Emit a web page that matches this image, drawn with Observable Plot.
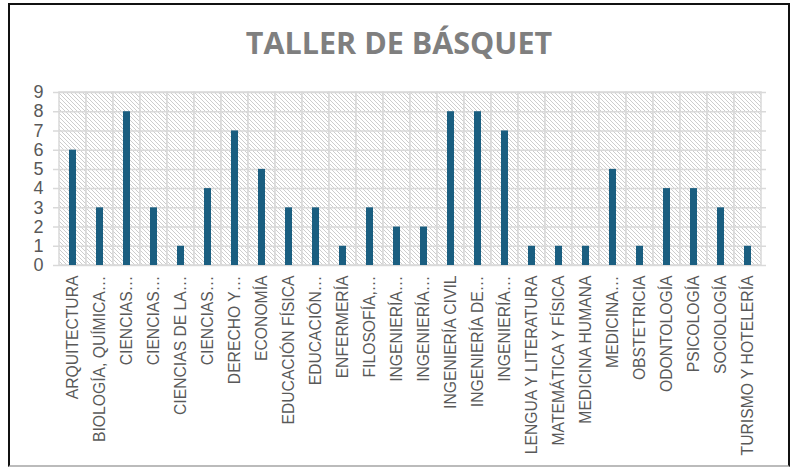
<!DOCTYPE html>
<html><head><meta charset="utf-8">
<script src="https://cdn.jsdelivr.net/npm/d3@7"></script>
<script src="https://cdn.jsdelivr.net/npm/@observablehq/plot@0.6"></script>
<style>
body{margin:0;background:#fff;}
#frame{position:absolute;left:8px;top:3px;width:778px;height:460px;border:2px solid #111;border-bottom-color:#bbb;background:#fff;overflow:hidden;}
#title{position:absolute;top:22px;left:0;width:100%;text-align:center;font-family:"Open Sans",sans-serif;font-weight:bold;font-size:30.5px;line-height:1;color:#7f7f7f;}
#chart{position:absolute;left:0;top:67px;}
</style>
</head><body>
<div id="frame"><div id="title">TALLER DE BÁSQUET</div><div id="chart"></div></div>
<script>
const labels = ["ARQUITECTURA","BIOLOGÍA, QUÍMICA…","CIENCIAS…","CIENCIAS…","CIENCIAS DE LA…","CIENCIAS…","DERECHO Y…","ECONOMÍA","EDUCACIÓN FÍSICA","EDUCACIÓN…","ENFERMERÍA","FILOSOFÍA,…","INGENIERÍA…","INGENIERÍA…","INGENIERÍA CIVIL","INGENIERÍA DE…","INGENIERÍA…","LENGUA Y LITERATURA","MATEMÁTICA Y FÍSICA","MEDICINA HUMANA","MEDICINA…","OBSTETRICIA","ODONTOLOGÍA","PSICOLOGÍA","SOCIOLOGÍA","TURISMO Y HOTELERÍA"];
const values = [6,3,8,3,1,4,7,5,3,3,1,3,2,2,8,8,7,1,1,1,5,1,4,4,3,1];
const yTicks = [0,1,2,3,4,5,6,7,8,9];
const yMax = 9;

const idx = labels.map((_, i) => i);

const defs = () => {
  const d = d3.create("svg:defs");
  const p = d.append("pattern").attr("id","hatch").attr("patternUnits","userSpaceOnUse")
    .attr("width",4).attr("height",4);
  p.append("rect").attr("width",4).attr("height",4).attr("fill","#ffffff");
  p.append("path").attr("d","M-1,-1L5,5M-1,3L1,5M3,-1L5,1")
    .attr("stroke","#cdcdcd").attr("stroke-width",1);
  return d.node();
};

const chart = Plot.plot({
  width: 760,
  height: 392,
  marginLeft: 43,
  marginRight: 4,
  marginTop: 20,
  marginBottom: 199,
  style: {fontFamily: "'Liberation Sans', Arial, sans-serif", color: "#595959", background: "transparent"},
  x: {type: "band", domain: idx, padding: 0},
  y: {domain: [0, yMax]},
  marks: [
    defs,
    Plot.barY(idx, {x: i => i, y1: () => 0, y2: () => yMax, fill: "url(#hatch)", stroke: "#d9d9d9", strokeWidth: 1.5}),
    Plot.ruleY(yTicks, {stroke: "#d9d9d9", strokeWidth: 1.5}),
    Plot.barY(idx, {x: i => i, y: i => values[i], fill: "#1a5e80", insetLeft: 10, insetRight: 10}),
    Plot.axisY({ticks: yTicks, tickSize: 0, tickPadding: 10, fontSize: 18, label: null}),
    Plot.axisX({tickFormat: i => labels[i], tickRotate: -90, tickSize: 0, tickPadding: 10, fontSize: 15.7, label: null})
  ]
});
document.getElementById("chart").appendChild(chart);
</script>
</body></html>
